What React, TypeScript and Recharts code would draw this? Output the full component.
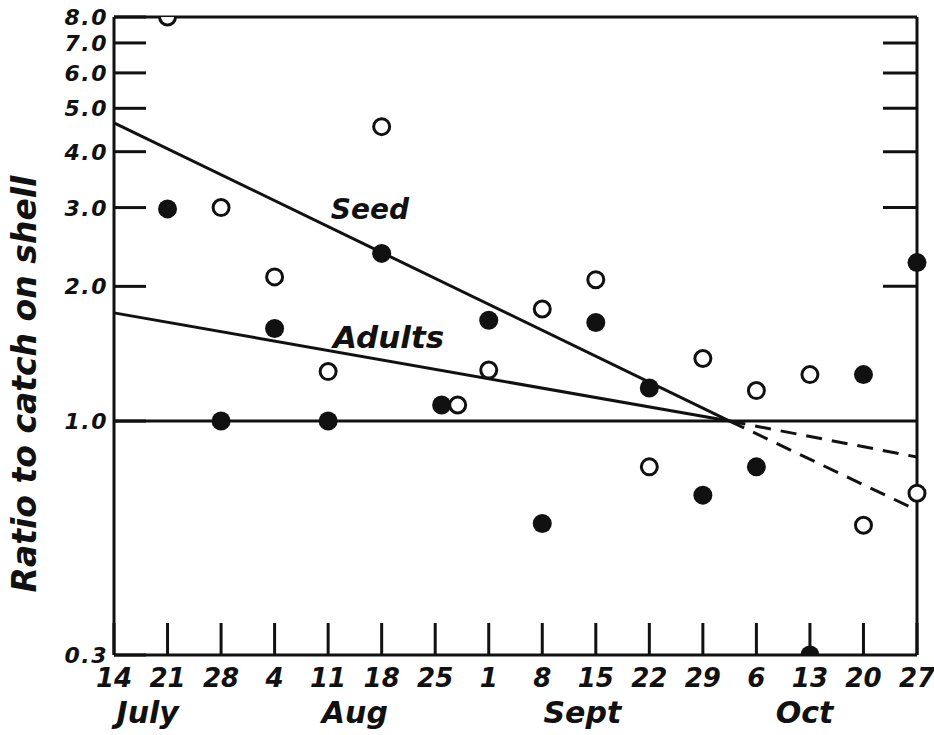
import React from "react";
import {
  ComposedChart,
  XAxis,
  YAxis,
  Scatter,
  Line,
  ReferenceLine,
  ReferenceDot,
} from "recharts";

// weeks, July 14 .. Oct 27, as index 0..15
const WEEK_TICKS = [0, 1, 2, 3, 4, 5, 6, 7, 8, 9, 10, 11, 12, 13, 14, 15];
const WEEK_LABELS = ["14", "21", "28", "4", "11", "18", "25", "1", "8", "15", "22", "29", "6", "13", "20", "27"];
const MONTH_POS = [0.63, 4.5, 8.75, 12.9];
const MONTH_LABELS = ["July", "Aug", "Sept", "Oct"];
const Y_TICKS = [0.3, 1, 2, 3, 4, 5, 6, 7, 8];

// open circles
const openPts = [
  { x: 1, y: 8.0 },
  { x: 2, y: 3.0 },
  { x: 3, y: 2.1 },
  { x: 4, y: 1.29 },
  { x: 5, y: 4.55 },
  { x: 6.42, y: 1.086 },
  { x: 7, y: 1.3 },
  { x: 8, y: 1.78 },
  { x: 9, y: 2.07 },
  { x: 10, y: 0.79 },
  { x: 11, y: 1.38 },
  { x: 12, y: 1.17 },
  { x: 13, y: 1.27 },
  { x: 14, y: 0.585 },
  { x: 15, y: 0.69 },
];

// filled circles
const filledPts = [
  { x: 1, y: 2.98 },
  { x: 2, y: 1.0 },
  { x: 3, y: 1.61 },
  { x: 4, y: 1.0 },
  { x: 5, y: 2.37 },
  { x: 6.12, y: 1.086 },
  { x: 7, y: 1.68 },
  { x: 8, y: 0.59 },
  { x: 9, y: 1.66 },
  { x: 10, y: 1.185 },
  { x: 11, y: 0.683 },
  { x: 12, y: 0.79 },
  { x: 13, y: 0.3 },
  { x: 14, y: 1.27 },
  { x: 15, y: 2.26 },
];

const seedLine = [
  { x: 0, y: 4.64 },
  { x: 11.5, y: 1.0 },
];
const seedDash = [
  { x: 11.5, y: 1.0 },
  { x: 15, y: 0.632 },
];
const adultLine = [
  { x: 0, y: 1.745 },
  { x: 11.5, y: 1.0 },
];
const adultDash = [
  { x: 11.5, y: 1.0 },
  { x: 15, y: 0.831 },
];

const INK = "#111";
const FONT = "'DejaVu Sans', sans-serif";
const txt = { fontFamily: FONT, fontStyle: "italic", fontWeight: 700, fill: INK } as const;

function BottomTick({ x, y, index }: any) {
  return (
    <g>
      <line x1={x} y1={y} x2={x} y2={y - 32} stroke={INK} strokeWidth={3} />
      <text x={x} y={y + 32} textAnchor="middle" fontSize={26} {...txt}>
        {WEEK_LABELS[index]}
      </text>
    </g>
  );
}

function TopTick({ x, y }: any) {
  return <line x1={x} y1={y} x2={x} y2={y + 34} stroke={INK} strokeWidth={3} />;
}

function LeftTick({ x, y, payload }: any) {
  return (
    <g>
      <line x1={x} y1={y} x2={x + 32} y2={y} stroke={INK} strokeWidth={3} />
      <text x={x - 6} y={y + 8} textAnchor="end" fontSize={22} letterSpacing={1.5} {...txt}>
        {payload.value.toFixed(1)}
      </text>
    </g>
  );
}

function RightTick({ x, y }: any) {
  return <line x1={x} y1={y} x2={x - 34} y2={y} stroke={INK} strokeWidth={3} />;
}

const openDot = (p: any) => (
  <circle cx={p.cx} cy={p.cy} r={8} fill="#fff" stroke={INK} strokeWidth={3} />
);
const filledDot = (p: any) => <circle cx={p.cx} cy={p.cy} r={9.5} fill={INK} />;

const textMark = (label: string, size: number, dy = 0) => (p: any) => (
  <text x={p.cx} y={p.cy + dy} textAnchor="middle" dominantBaseline="central" fontSize={size} {...txt}>
    {label}
  </text>
);

export default function App() {
  const axisLine = { stroke: INK, strokeWidth: 3 };
  return (
    <div style={{ position: "absolute", left: 0, top: 0, width: 934, height: 735, background: "#fff" }}>
      <ComposedChart width={934} height={735} margin={{ top: 0, right: 0, bottom: 0, left: 0 }}>
        <XAxis
          dataKey="x"
          type="number"
          domain={[0, 15]}
          ticks={WEEK_TICKS}
          interval={0}
          height={80}
          tickSize={0}
          tickMargin={0}
          axisLine={axisLine}
          tick={(p: any) => <BottomTick {...p} />}
        />
        <XAxis
          xAxisId="top"
          orientation="top"
          dataKey="x"
          type="number"
          domain={[0, 15]}
          ticks={WEEK_TICKS.slice(1)}
          interval={0}
          height={17}
          tickSize={0}
          tickMargin={0}
          axisLine={axisLine}
          tick={(p: any) => <TopTick {...p} />}
        />
        <YAxis
          scale="log"
          domain={[0.3, 8]}
          allowDataOverflow
          ticks={Y_TICKS}
          interval={0}
          width={114}
          tickSize={0}
          tickMargin={0}
          axisLine={axisLine}
          tick={(p: any) => <LeftTick {...p} />}
          label={() => (
            <text
              x={36}
              y={384}
              transform="rotate(-90 36 384)"
              textAnchor="middle"
              fontSize={33}
              {...txt}
            >
              Ratio to catch on shell
            </text>
          )}
        />
        <YAxis
          yAxisId="right"
          orientation="right"
          scale="log"
          domain={[0.3, 8]}
          allowDataOverflow
          ticks={[2, 3, 4, 5, 6, 7]}
          interval={0}
          width={17}
          tickSize={0}
          tickMargin={0}
          axisLine={axisLine}
          tick={(p: any) => <RightTick {...p} />}
        />
        <ReferenceLine y={1} stroke={INK} strokeWidth={3} />
        <Line data={seedLine} dataKey="y" type="linear" stroke={INK} strokeWidth={3} dot={false} isAnimationActive={false} />
        <Line data={adultLine} dataKey="y" type="linear" stroke={INK} strokeWidth={3} dot={false} isAnimationActive={false} />
        <Line data={seedDash} dataKey="y" type="linear" stroke={INK} strokeWidth={3} strokeDasharray="16 10" dot={false} isAnimationActive={false} />
        <Line data={adultDash} dataKey="y" type="linear" stroke={INK} strokeWidth={3} strokeDasharray="16 10" dot={false} isAnimationActive={false} />
        <Scatter data={filledPts} dataKey="y" shape={filledDot} isAnimationActive={false} />
        <Scatter data={openPts} dataKey="y" shape={openDot} isAnimationActive={false} />
        <ReferenceDot x={4.78} y={2.965} r={1} shape={textMark("Seed", 28)} />
        <ReferenceDot x={5.13} y={1.54} r={1} shape={textMark("Adults", 31)} />
        {MONTH_POS.map((m, i) => (
          <ReferenceDot
            key={MONTH_LABELS[i]}
            x={m}
            y={0.3}
            r={1}
            ifOverflow="visible"
            shape={textMark(MONTH_LABELS[i], 30, 57)}
          />
        ))}
      </ComposedChart>
    </div>
  );
}
